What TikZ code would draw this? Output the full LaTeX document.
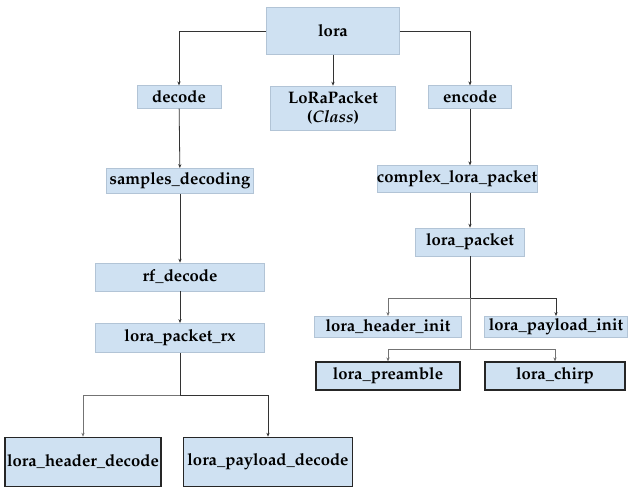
\documentclass[tikz,border=0pt]{standalone}
\usepackage[T1]{fontenc}
\usepackage{mathpazo}
\usepackage{tikz}
\usetikzlibrary{arrows.meta}

\definecolor{boxblue}{RGB}{207,225,242}
\definecolor{boxline}{RGB}{178,196,214}

\begin{document}
\begin{tikzpicture}[x=0.75pt, y=-0.75pt,
                        thin,
                        box/.style={draw=boxline, fill=boxblue, inner sep=0pt, font=\fontsize{12.5}{14.5}\selectfont\bfseries},
                        leaf/.style={box, draw=black!85, line width=0.9pt},
                        arr/.style={-{Stealth[length=3pt,width=2.4pt]}, black!80, line width=0.6pt},
                        wire/.style={black!80, line width=0.6pt}]

      \useasboundingbox (0,0) rectangle (628,490);

      % top level
      \node[box, minimum width=100pt, minimum height=35pt] (lora) at (333,31) {lora};
      \node[box, minimum width=63pt, minimum height=17pt] (dec) at (179,97) {decode};
      \node[box, minimum width=94pt, minimum height=33pt, align=center] (cls) at (333,108) {LoRaPacket\\(\textit{Class})};
      \node[box, minimum width=62pt, minimum height=17pt] (enc) at (470,97) {encode};

      % decode side
      \node[box, minimum width=110pt, minimum height=19pt] (sd) at (180,181) {samples\_decoding};
      \node[box, minimum width=127pt, minimum height=21pt] (rf) at (180,277) {rf\_decode};
      \node[box, minimum width=127pt, minimum height=22pt] (rx) at (180,338) {lora\_packet\_rx};
      \node[leaf, minimum width=117pt, minimum height=37pt] (hdec) at (83,462) {lora\_header\_decode};
      \node[leaf, minimum width=127pt, minimum height=37pt] (pdec) at (268,462) {lora\_payload\_decode};

      % encode side
      \node[box, minimum width=113pt, minimum height=20pt] (clp) at (457,179) {complex\_lora\_packet};
      \node[box, minimum width=82pt, minimum height=21pt] (lp) at (470,242) {lora\_packet};
      \node[box, minimum width=110pt, minimum height=16pt] (hin) at (388,327) {lora\_header\_init};
      \node[box, minimum width=107pt, minimum height=16pt] (pin) at (556,327) {lora\_payload\_init};
      \node[leaf, minimum width=108pt, minimum height=21pt] (pre) at (388,376) {lora\_preamble};
      \node[leaf, minimum width=105pt, minimum height=21pt] (chp) at (555,376) {lora\_chirp};

      \coordinate (rxs) at (180,395);
      \coordinate (lps) at (470,298);
      \coordinate (lps2) at (470,349);

      \draw[arr] (lora.west) -| (dec.north);
      \draw[arr] (lora.east) -| (enc.north);
      \draw[arr] (lora) -- (cls);
      \draw[arr] (dec) -- (sd);
      \draw[arr] (sd) -- (rf);
      \draw[arr] (rf) -- (rx);
      \draw[wire] (rx) -- (rxs);
      \draw[arr, black!55] (rxs) -| (hdec.north);
      \draw[arr] (rxs) -| (pdec.north);
      \draw[arr] (enc) -- (enc |- clp.north);
      \draw[arr] (clp.south -| lp.north) -- (lp.north);
      \draw[wire] (lp) -- (lps);
      \draw[arr, black!55] (lps) -| (hin.north);
      \draw[arr] (lps) -| (pin.north);
      \draw[wire, black!55] (lps) -- (lps2);
      \draw[arr, black!55] (lps2) -| (pre.north);
      \draw[arr, black!55] (lps2) -| (chp.north);

    \end{tikzpicture}
\end{document}
